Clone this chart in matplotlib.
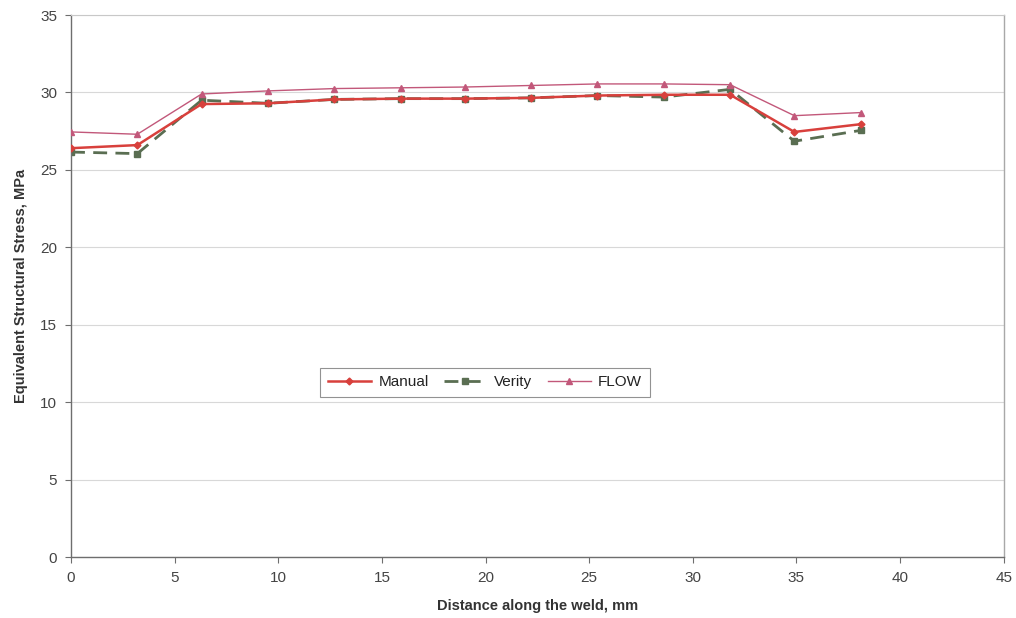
import matplotlib
matplotlib.use("Agg")
import matplotlib.pyplot as plt

plt.rcParams['font.family'] = ['Liberation Sans', 'DejaVu Sans']

# Measurement positions along the weld (mm)
distance = [0, 3.2, 6.3, 9.5, 12.7, 15.9, 19.0, 22.2, 25.4, 28.6, 31.8, 34.9, 38.1]

# Equivalent structural stress (MPa) by method
manual = [26.4, 26.6, 29.25, 29.3, 29.55, 29.6, 29.6, 29.65, 29.8, 29.85, 29.85, 27.45, 27.95]
verity = [26.15, 26.05, 29.5, 29.3, 29.55, 29.6, 29.6, 29.65, 29.8, 29.7, 30.2, 26.85, 27.55]
flow = [27.45, 27.3, 29.9, 30.1, 30.25, 30.3, 30.35, 30.45, 30.55, 30.55, 30.5, 28.5, 28.7]

x_ticks = [0, 5, 10, 15, 20, 25, 30, 35, 40, 45]
y_ticks = [0, 5, 10, 15, 20, 25, 30, 35]

fig = plt.figure(figsize=(10.16, 6.18), dpi=100)
ax = fig.add_axes([0.0699, 0.0987, 0.918, 0.877])

ax.plot(distance, manual, color='#d8403c', lw=1.8, marker='D', ms=3.5,
        label='Manual', zorder=3)
ax.plot(distance, verity, color='#5a6e52', lw=2.0, ls=(0, (5, 3)), marker='s', ms=4.5,
        label='Verity', zorder=2)
ax.plot(distance, flow, color='#c2587a', lw=1.0, marker='^', ms=5,
        label='FLOW', zorder=4)

ax.set_xlim(0, 45)
ax.set_ylim(0, 35)
ax.set_xticks(x_ticks)
ax.set_yticks(y_ticks)
ax.grid(axis='y', color='#d8d8d8', lw=0.8)
ax.set_axisbelow(True)

ax.spines['top'].set_color('#c8c8c8')
ax.spines['top'].set_linewidth(0.8)
ax.spines['right'].set_color('#a8a8a8')
ax.spines['right'].set_linewidth(1.0)
for side in ('left', 'bottom'):
    ax.spines[side].set_color('#6e6e6e')
    ax.spines[side].set_linewidth(1.0)

ax.tick_params(axis='both', direction='out', length=4, color='#6e6e6e',
               labelsize=11, labelcolor='#444444', pad=6)

ax.set_xlabel('Distance along the weld, mm', fontsize=10.5, fontweight='bold',
              color='#333333', labelpad=10)
ax.set_ylabel('Equivalent Structural Stress, MPa', fontsize=10.5, fontweight='bold',
              color='#333333', labelpad=9)

leg = ax.legend(loc='center', bbox_to_anchor=(0.444, 0.322), ncol=3, frameon=True,
                fancybox=False, fontsize=11, handlelength=2.8, columnspacing=1.0,
                handletextpad=0.5, borderpad=0.5)
leg.get_frame().set_edgecolor('#777777')
leg.get_frame().set_linewidth(0.8)
for t in leg.get_texts():
    t.set_color('#222222')

fig.savefig('out.png', dpi=100, facecolor='white')
